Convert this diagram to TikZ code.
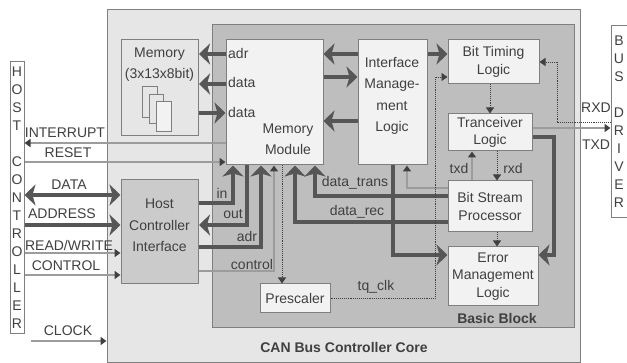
\documentclass[tikz,border=0pt]{standalone}
\usepackage{fontspec}
\setmainfont{Liberation Sans}
\usetikzlibrary{arrows.meta}
\definecolor{core}{HTML}{E6E6E6}
\definecolor{inner}{HTML}{BEBEBE}
\definecolor{pale}{HTML}{F2F2F2}
\definecolor{hci}{HTML}{CBCBCB}
\definecolor{edge}{HTML}{7F7F7F}
\definecolor{thick}{HTML}{565656}
\definecolor{thin}{HTML}{9C9C9C}
\definecolor{ink}{HTML}{404040}
\tikzset{
  box/.style={draw=edge,line width=1pt,fill=pale,minimum width=#1,inner sep=0pt},
  lab/.style={text=ink,font=\fontsize{14}{21.5}\selectfont,align=center,inner sep=0pt},
  labs/.style={text=ink,font=\fontsize{14}{17.5}\selectfont,align=center,inner sep=0pt},
  sig/.style={text=ink,font=\fontsize{14}{16}\selectfont,inner sep=0pt},
  title/.style={text=ink,font=\fontsize{14}{16}\selectfont\bfseries,inner sep=0pt},
  bar/.style={draw=edge,line width=1pt,fill=white,text=ink,inner sep=0pt,align=center,font=\fontsize{14}{18}\selectfont},
  fat/.style={draw=thick,line width=4pt,-{Stealth[width=21pt,length=11pt,inset=3pt,fill=thick]}},
  fatboth/.style={draw=thick,line width=4pt,{Stealth[width=21pt,length=11pt,inset=3pt,fill=thick]}-{Stealth[width=21pt,length=11pt,inset=3pt,fill=thick]}},
  slim/.style={draw=thin,line width=1.8pt,-{Triangle[width=8pt,length=6pt,color=ink]}},
  dot/.style={draw=ink,line width=0.9pt,densely dotted,-{Triangle[width=8pt,length=6pt,color=ink]}},
}
\begin{document}
\begin{tikzpicture}[x=1pt,y=-1pt]
\useasboundingbox (0,0) rectangle (627,363);
\fill[white] (0,0) rectangle (627,363);
% frames
\node[box=473pt,minimum height=353pt,fill=core] (corebox) at (343.5,186.5) {};
\node[box=362pt,minimum height=303pt,fill=inner] (blockbox) at (393,176.5) {};
% bars
\node[bar,minimum width=14pt,minimum height=272pt] (hc) at (17,198) {H\\O\\S\\T\\\mbox{}\\C\\O\\N\\T\\R\\O\\L\\L\\E\\R};
\node[bar,minimum width=16pt,minimum height=192pt] (bd) at (619,122) {B\\U\\S\\\mbox{}\\D\\R\\I\\V\\E\\R};
% boxes
\node[box=77.5pt,minimum height=96pt,fill=core] (mem) at (159.75,88) {};
\node[box=77.5pt,minimum height=104pt,fill=hci] (hif) at (159.75,232) {};
\node[box=97pt,minimum height=125pt] (mm) at (274.5,102.5) {};
\node[box=69pt,minimum height=125pt] (iml) at (392.5,102.5) {};
\node[box=91pt,minimum height=44pt,labs] (bt) at (493.5,62) {Bit Timing\\Logic};
\node[box=84pt,minimum height=37pt,labs] (tl) at (490,132.5) {Tranceiver\\Logic};
\node[box=84pt,minimum height=51pt,labs] (bsp) at (490,206.5) {Bit Stream\\Processor};
\node[box=90pt,minimum height=59pt,labs] (eml) at (493,276.5) {Error\\Management\\Logic};
\node[box=70pt,minimum height=29pt,lab] (pre) at (295,298.5) {Prescaler};
% memory pages
\draw[edge,line width=1pt,fill=core] (142.5,87) rectangle (157,118);
\draw[edge,line width=1pt,fill=core] (149,95) rectangle (163,124);
\draw[edge,line width=1pt,fill=pale] (156,102) rectangle (171,132);
% box labels
\node[lab] (memlab) at (159.5,64.5) {Memory\\(3x13x8bit)};
\node[lab] (mmlab) at (288,139.5) {Memory\\Module};
\node[lab] (imllab) at (392,96) {Interface\\Manage-\\ment\\Logic};
\node[lab] (hiflab) at (159.5,225.5) {Host\\Controller\\Interface};
% connectors: host side
\draw[slim] (mm.west |- 0,143) -- (hc.east |- 0,143);
\draw[slim] (hc.east |- 0,162) -- (mm.west |- 0,162);
\draw[fatboth] (hc.east |- 0,195) -- (hif.west |- 0,195);
\draw[fat] (hc.east |- 0,225) -- (hif.west |- 0,225);
\draw[slim] (hc.east |- 0,253) -- (hif.west |- 0,253);
\draw[slim] (hc.east |- 0,275) -- (hif.west |- 0,275);
\coordinate (clk) at (31,341);
\draw[slim] (clk) -- (corebox.west |- clk);
% memory
\draw[fat] (mm.west |- 0,54) -- (mem.east |- 0,54);
\draw[fat] (mm.west |- 0,84) -- (mem.east |- 0,84);
\draw[fat] (mem.east |- 0,113) -- (mm.west |- 0,113);
% module - interface
\draw[fat] (iml.west |- 0,54) -- (mm.east |- 0,54);
\draw[fat] (mm.east |- 0,77) -- (iml.west |- 0,77);
\draw[fat] (iml.west |- 0,121) -- (mm.east |- 0,121);
\draw[fat] (iml.east |- 0,54) -- (bt.west |- 0,54);
% host interface - module
\draw[fat] (hif.east |- 0,203) -| (mm.south -| 233,0);
\draw[fat] (mm.south -| 247,0) |- (hif.east |- 0,225);
\draw[fat] (hif.east |- 0,247) -| (mm.south -| 261,0);
\draw[slim] (hif.east |- 0,271) -| (mm.south -| 274,0);
\draw[dot] (mm.south -| 282,0) -- (pre.north -| 282,0);
% stream processor - module
\draw[fat] (bsp.west |- 0,222) -| (mm.south -| 295,0);
\draw[fat] (bsp.west |- 0,196) -| (mm.south -| 315,0);
\draw[fat] (iml.south -| 393,0) |- (eml.west |- 0,255);
\draw[slim] (bsp.west |- 0,188) -| (iml.south -| 407,0);
% timing path
\draw[dot] (pre.east) -| (435,200) |- (bt.west |- 0,77);
\draw[dot] (bt.south -| 490,0) -- (tl.north -| 490,0);
\draw[dot] (tl.south -| 497,0) -- (bsp.north -| 497,0);
\draw[slim] (bsp.north -| 472,0) -- (tl.south -| 472,0);
\draw[dot] (bsp.south -| 497,0) -- (eml.north -| 497,0);
\draw[fat] (tl.east |- 0,137) -| (554,200) |- (eml.east |- 0,255);
\draw[slim] (tl.east |- 0,128) -- (bd.west |- 0,128);
\draw[dot] (bd.west |- 0,122) -| (557,90) |- (bt.east |- 0,62);
% signal labels
\node[sig] (l1) at (65,133) {INTERRUPT};
\node[sig] (l2) at (68,153) {RESET};
\node[sig] (l3) at (69,185) {DATA};
\node[sig] (l4) at (62,214) {ADDRESS};
\node[sig] (l5) at (69,245) {READ/WRITE};
\node[sig] (l6) at (66,266) {CONTROL};
\node[sig] (l7) at (68,331) {CLOCK};
\node[sig,anchor=west] (l8) at (228,53) {adr};
\node[sig,anchor=west] (l9) at (228,82) {data};
\node[sig,anchor=west] (l10) at (228,112) {data};
\node[sig] (l11) at (222,193) {in};
\node[sig] (l12) at (233,214) {out};
\node[sig] (l13) at (247,236) {adr};
\node[sig] (l14) at (252,264) {control};
\node[sig] (l15) at (355,183) {data\_trans};
\node[sig] (l16) at (357,212) {data\_rec};
\node[sig] (l17) at (376,287) {tq\_clk};
\node[sig] (l18) at (459,168) {txd};
\node[sig] (l19) at (513,168) {rxd};
\node[sig] (l20) at (596,108) {RXD};
\node[sig] (l21) at (596,145) {TXD};
\node[title] (t1) at (497,318) {Basic Block};
\node[title] (t2) at (344,347) {CAN Bus Controller Core};
\end{tikzpicture}
\end{document}
